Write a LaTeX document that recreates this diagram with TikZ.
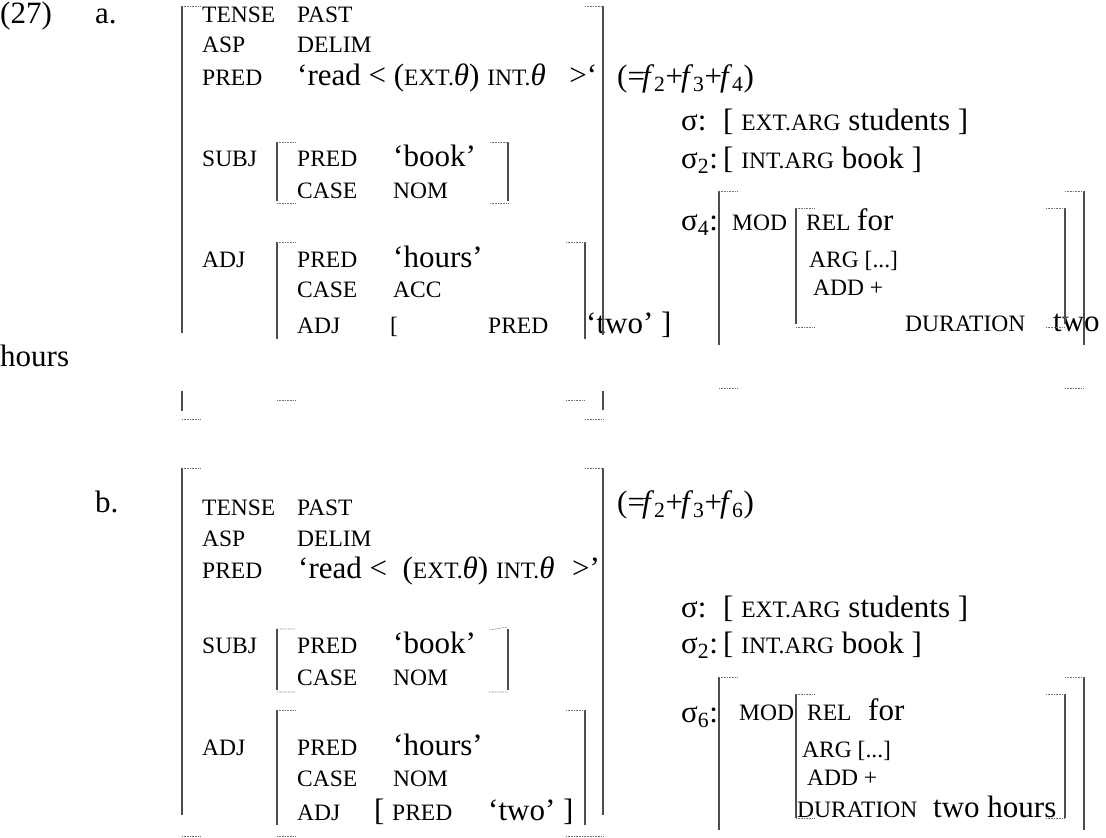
\documentclass[tikz,border=0pt]{standalone}
\usepackage{fontspec}
\setmainfont{Liberation Serif}
\usepackage{tikz}
\newcommand{\featsz}{\fontsize{23.5}{28}\selectfont}
\newcommand{\valsz}{\fontsize{31}{37}\selectfont}
\tikzstyle{feat} = [anchor=base west, inner sep=0pt, font=\featsz]
\tikzstyle{val} = [anchor=base west, inner sep=0pt, font=\valsz]
\tikzstyle{brack} = [draw, line width=1.3pt, black!70]
\tikzstyle{corner} = [draw, line width=0.6pt, black!55, dash pattern=on 0.8pt off 0.8pt]

\begin{document}
\begin{tikzpicture}[x=1pt, y=-1pt]
\useasboundingbox (0,0) rectangle (1106,838);
% Place nodes: (27a)
\node [val] (exNum) at (0,23) {(27)};
\node [val] (labelA) at (95,23) {a.};
\node [feat] (tenseA) at (202,22) {TENSE};
\node [feat] (pastA) at (297,22) {PAST};
\node [feat] (aspA) at (202,52) {ASP};
\node [feat] (delimA) at (297,52) {DELIM};
\node [feat] (predA) at (202,85) {PRED};
\node [val] (readA) at (297,85) {‘read < ({\featsz EXT.}\textit{θ}) {\featsz INT.}\textit{θ}\ \ \hspace{8pt}>‘};
\node [val] (sumA) at (617,86) {(=\kern-3pt\textit{f}\textsubscript{2}+\kern-2pt\textit{f}\textsubscript{3}+\kern-2pt\textit{f}\textsubscript{4})};
\node [val] (sigA) at (681,130) {σ:};
\node [val] (extA) at (723,130) {[ {\featsz EXT.ARG} students ]};
\node [val] (sigTwoA) at (681,168) {σ\textsubscript{2}:};
\node [val] (intA) at (723,168) {[ {\featsz INT.ARG} book ]};
\node [feat] (subjA) at (202,166) {SUBJ};
\node [feat] (subjPredA) at (297,166) {PRED};
\node [val] (bookA) at (393,166) {‘book’};
\node [feat] (subjCaseA) at (297,198) {CASE};
\node [feat] (nomA) at (393,198) {NOM};
\node [feat] (adjA) at (202,267) {ADJ};
\node [feat] (adjPredA) at (297,267) {PRED};
\node [val] (hoursA) at (393,267) {‘hours’};
\node [feat] (adjCaseA) at (297,297) {CASE};
\node [feat] (accA) at (393,297) {ACC};
\node [feat] (adjAdjA) at (297,333) {ADJ};
\node [feat] (openA) at (390,333) {[};
\node [feat] (twoPredA) at (488,333) {PRED};
\node [val] (twoA) at (586,333) {‘two’ ]};
\node [val] (hoursRestA) at (0,366) {hours};
\node [val] (sigFourA) at (681,230) {σ\textsubscript{4}:};
\node [feat] (modA) at (732,230) {MOD};
\node [feat] (relA) at (806,230) {REL};
\node [val] (forA) at (857,230) {for};
\node [feat] (argA) at (809,267) {ARG [...]};
\node [feat] (addA) at (813,295) {ADD +};
\node [feat] (durA) at (905,331) {DURATION};
\node [val] (durValA) at (1053,331) {two};
% brackets (27a)
\path [brack] (182,6) -- (182,333) (603,6) -- (603,335) (182,391) -- (182,411) (603,391) -- (603,410);
\path [corner] (182,6) -- (200,6) (585,6) -- (603,6) (182,419) -- (200,419) (585,419) -- (603,419);
\path [brack] (277,142) -- (277,201) (508,142) -- (508,201);
\path [corner] (277,142) -- (296,142) (490,142) -- (508,142) (277,203) -- (296,203) (490,203) -- (508,203);
\path [brack] (277,242) -- (277,339) (585,242) -- (585,339);
\path [corner] (277,242) -- (296,242) (566,242) -- (585,242) (277,400) -- (296,400) (566,400) -- (585,400);
\path [brack] (719,191) -- (719,345) (1084,191) -- (1084,345);
\path [corner] (719,191) -- (738,191) (1065,191) -- (1084,191) (719,388) -- (738,388) (1065,388) -- (1084,388);
\path [brack] (796,208) -- (796,324) (1065,208) -- (1065,324);
\path [corner] (796,208) -- (814,208) (1046,208) -- (1065,208) (796,327) -- (814,327) (1046,327) -- (1065,327);
% Place nodes: (27b)
\node [val] (labelB) at (95,512) {b.};
\node [feat] (tenseB) at (202,515) {TENSE};
\node [feat] (pastB) at (297,515) {PAST};
\node [feat] (aspB) at (202,546) {ASP};
\node [feat] (delimB) at (297,546) {DELIM};
\node [feat] (predB) at (202,578) {PRED};
\node [val] (readB) at (298,578) {‘read <\ \ ({\featsz EXT.}\textit{θ}) {\featsz INT.}\textit{θ}\ \ \hspace{2pt}>’};
\node [val] (sumB) at (617,512) {(=\kern-3pt\textit{f}\textsubscript{2}+\kern-2pt\textit{f}\textsubscript{3}+\kern-2pt\textit{f}\textsubscript{6})};
\node [val] (sigB) at (681,617) {σ:};
\node [val] (extB) at (723,617) {[ {\featsz EXT.ARG} students ]};
\node [val] (sigTwoB) at (681,653) {σ\textsubscript{2}:};
\node [val] (intB) at (723,653) {[ {\featsz INT.ARG} book ]};
\node [feat] (subjB) at (202,653) {SUBJ};
\node [feat] (subjPredB) at (297,653) {PRED};
\node [val] (bookB) at (393,653) {‘book’};
\node [feat] (subjCaseB) at (297,685) {CASE};
\node [feat] (nomB) at (393,685) {NOM};
\node [feat] (adjB) at (202,755) {ADJ};
\node [feat] (adjPredB) at (297,755) {PRED};
\node [val] (hoursB) at (393,755) {‘hours’};
\node [feat] (adjCaseB) at (297,786) {CASE};
\node [feat] (adjNomB) at (393,786) {NOM};
\node [feat] (adjAdjB) at (297,820) {ADJ};
\node [val] (openB) at (374,820) {[};
\node [feat] (twoPredB) at (392,820) {PRED};
\node [val] (twoB) at (488,820) {‘two’ ]};
\node [val] (sigSixB) at (681,722) {σ\textsubscript{6}:};
\node [feat] (modB) at (739,720) {MOD};
\node [feat] (relB) at (807,720) {REL};
\node [val] (forB) at (868,720) {for};
\node [feat] (argB) at (802,757) {ARG [...]};
\node [feat] (addB) at (807,785) {ADD +};
\node [feat] (durB) at (797,817) {DURATION};
\node [val] (durValB) at (933,817) {two hours};
% brackets (27b)
\path [brack] (182,468) -- (182,815) (603,468) -- (603,815);
\path [corner] (182,468) -- (200,468) (585,468) -- (603,468) (182,836) -- (200,836) (585,836) -- (603,836);
\path [brack] (277,629) -- (277,690) (508,629) -- (508,690);
\path [corner] (277,629) -- (296,629) (489,630) -- (508,627) (277,692) -- (296,692) (489,692) -- (508,692);
\path [brack] (277,710) -- (277,825) (585,710) -- (585,825);
\path [corner] (277,710) -- (296,710) (566,710) -- (585,710) (277,836) -- (296,836) (566,836) -- (585,836);
\path [brack] (719,677) -- (719,830) (1084,677) -- (1084,830);
\path [corner] (719,677) -- (738,677) (1065,677) -- (1084,677);
\path [brack] (796,694) -- (796,818) (1065,694) -- (1065,818);
\path [corner] (796,694) -- (814,694) (1046,694) -- (1065,694) (796,818) -- (814,818) (1046,818) -- (1065,818);
\end{tikzpicture}
\end{document}
